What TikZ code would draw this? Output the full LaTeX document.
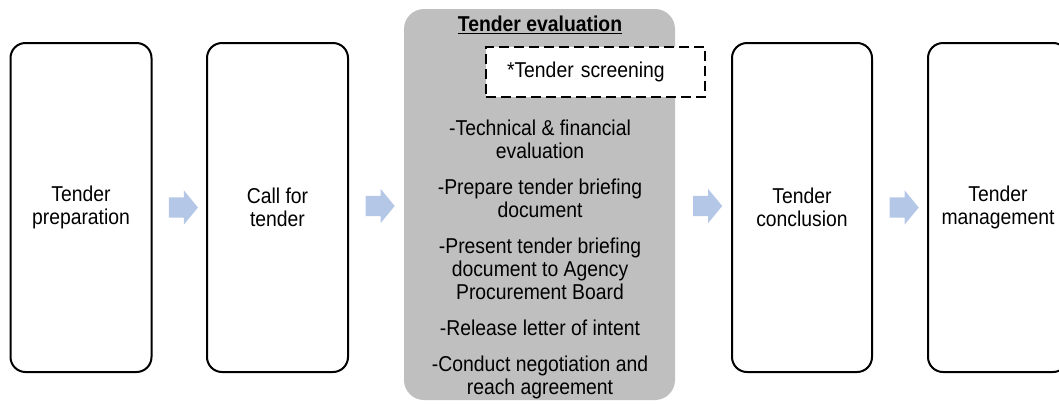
\documentclass[tikz,border=0pt]{standalone}
\usepackage{fontspec}
\setmainfont{Liberation Sans}[FakeStretch=0.9]
\usepackage{xcolor}
\usetikzlibrary{shapes.arrows,calc}
\definecolor{flowblue}{RGB}{180,199,231}
\definecolor{evalgray}{RGB}{191,191,191}

\begin{document}
\begin{tikzpicture}[x=1pt,y=-1pt,
	font=\fontsize{21.5pt}{23.2pt}\selectfont,
	stage/.style={draw,line width=2pt,rounded corners=15pt,minimum width=141pt,minimum height=329pt,align=center,inner sep=0pt},
	flow/.style={single arrow,fill=flowblue,minimum height=29pt,single arrow head extend=7pt,single arrow tip angle=101,inner xsep=0pt,inner ysep=10pt},
	heading/.style={font=\fontsize{21.5pt}{23pt}\selectfont\bfseries}]
	\path[use as bounding box,clip] (0,0) rectangle (1059,405);
	% stages
	\node[stage] (prep) at (81,207.5) {Tender\\preparation};
	\node[stage] (call) at (277.5,207.5) {Call for\\tender};
	\node[stage,draw=none,fill=evalgray,rounded corners=20pt,minimum width=271pt,minimum height=391pt] (eval) at (539.5,204.5) {};
	\node[stage,minimum width=140pt] (concl) at (802,207.5) {Tender\\conclusion};
	\node[stage,minimum width=140pt] (mgmt) at (998,207.5) {Tender\\management};
	% inside the evaluation stage
	\node[heading] (title) at (540,25) {\underline{Tender evaluation}};
	\node[draw,dash pattern=on 10pt off 5pt,line width=2pt,fill=white,text width=177pt,inner xsep=21pt,minimum height=50pt,align=left] (screen) at (595.5,72) {*Tender screening};
	\node[anchor=north,align=center,inner sep=0pt] (steps) at (540,120) {-Technical \& financial\\evaluation\\[12.5pt]-Prepare tender briefing\\document\\[12.5pt]-Present tender briefing\\document to Agency\\Procurement Board\\[12.5pt]-Release letter of intent\\[12.5pt]-Conduct negotiation and\\reach agreement};
	% arrows
	\node[flow] (f1) at ($(prep.east)!0.5!(call.west)$) {};
	\node[flow] (f2) at ($(call.east)!0.5!(eval.west)$) {};
	\node[flow] (f3) at ($(eval.east)!0.5!(concl.west)$) {};
	\node[flow] (f4) at ($(concl.east)!0.5!(mgmt.west)$) {};
\end{tikzpicture}
\end{document}
